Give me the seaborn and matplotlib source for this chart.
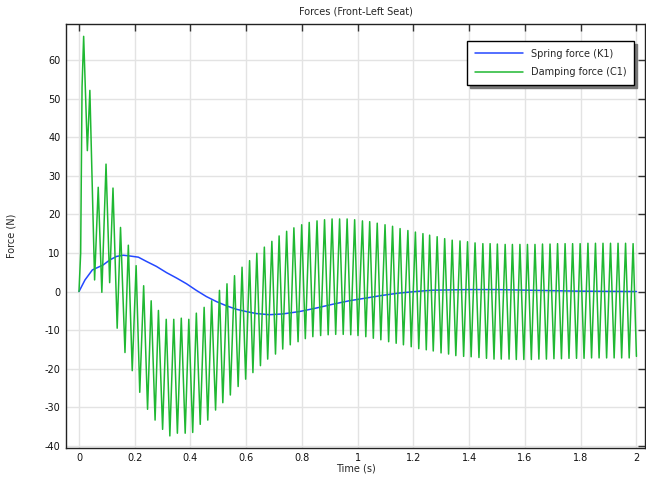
import pandas as pd
import matplotlib.pyplot as plt
import seaborn as sns
import numpy as np

# spring force (K1)
t_spring = [0.0, 0.0215, 0.048, 0.087, 0.111, 0.135, 0.159, 0.183, 0.213, 0.242, 0.278,
            0.314, 0.350, 0.386, 0.421, 0.457, 0.493, 0.529, 0.565, 0.601, 0.636, 0.683,
            0.731, 0.790, 0.850, 0.910, 0.969, 1.029, 1.088, 1.148, 1.207, 1.267, 1.40,
            1.50, 1.61, 1.79, 2.0]
f_spring = [0.0, 3.0, 5.6, 6.9, 8.2, 9.1, 9.4, 9.2, 8.9, 7.8, 6.5,
            4.9, 3.5, 2.0, 0.3, -1.3, -2.6, -3.7, -4.6, -5.2, -5.7, -6.0,
            -5.8, -5.2, -4.3, -3.3, -2.4, -1.7, -1.0, -0.4, 0.0, 0.35, 0.5,
            0.5, 0.35, 0.1, 0.0]

# damping force (C1), peaks and troughs
t_damp = [0.000, 0.006, 0.011, 0.0167, 0.030, 0.039, 0.056, 0.069, 0.082, 0.097,
          0.110, 0.122, 0.137, 0.149, 0.165, 0.177, 0.191, 0.205, 0.218, 0.232,
          0.246, 0.259, 0.273, 0.285, 0.300, 0.313, 0.326, 0.340, 0.353, 0.367,
          0.381, 0.394, 0.408, 0.421, 0.435, 0.449, 0.462, 0.476, 0.490, 0.504,
          0.516, 0.531, 0.543, 0.558, 0.571, 0.585, 0.598, 0.612, 0.624, 0.638,
          0.651, 0.665, 0.677, 0.692, 0.705, 0.718, 0.731, 0.745, 0.758, 0.771,
          0.786, 0.799, 0.812, 0.826, 0.839, 0.854, 0.867, 0.881, 0.894, 0.908,
          0.921, 0.935, 0.948, 0.962, 0.975, 0.989, 1.001, 1.017, 1.029, 1.043,
          1.056, 1.070, 1.083, 1.098, 1.111, 1.125, 1.138, 1.152, 1.164, 1.180,
          1.192, 1.207, 1.219, 1.234, 1.246, 1.258, 1.271, 1.285, 1.299, 1.312,
          1.326, 1.339, 1.352, 1.367, 1.380, 1.394, 1.407, 1.421, 1.435, 1.449,
          1.462, 1.475, 1.489, 1.501, 1.515, 1.529, 1.543, 1.555, 1.569, 1.582,
          1.596, 1.609, 1.623, 1.636, 1.650, 1.663, 1.677, 1.690, 1.704, 1.717,
          1.731, 1.744, 1.758, 1.771, 1.785, 1.798, 1.812, 1.826, 1.839, 1.853,
          1.866, 1.880, 1.893, 1.907, 1.920, 1.934, 1.947, 1.961, 1.974, 1.988,
          2.000]
f_damp = [0.0, 10.0, 53.0, 66.1, 36.5, 52.1, 3.0, 27.0, -0.2, 33.0,
          2.3, 26.8, -9.5, 16.6, -15.8, 12.0, -20.5, 6.7, -26.1, 1.5,
          -30.5, -2.4, -33.3, -4.9, -35.7, -7.2, -37.4, -7.2, -36.7, -6.9,
          -36.7, -7.2, -36.5, -5.6, -34.4, -4.1, -33.3, -2.4, -30.7, 0.3,
          -28.8, 2.0, -26.8, 4.1, -24.6, 6.3, -22.7, 8.0, -21.0, 9.9,
          -19.2, 11.5, -17.5, 13.0, -16.2, 14.4, -14.9, 15.6, -13.8, 16.5,
          -13.0, 17.3, -12.2, 17.9, -11.7, 18.3, -11.4, 18.6, -11.2, 18.8,
          -11.1, 18.8, -11.1, 18.8, -11.2, 18.6, -11.4, 18.3, -11.7, 18.1,
          -12.1, 17.7, -12.5, 17.3, -13.0, 16.9, -13.4, 16.3, -13.8, 15.8,
          -14.3, 15.4, -14.8, 15.0, -15.1, 14.6, -15.4, 14.2, -15.9, 13.7,
          -16.2, 13.3, -16.6, 13.1, -16.8, 12.9, -16.9, 12.6, -17.1, 12.4,
          -17.3, 12.4, -17.5, 12.3, -17.5, 12.2, -17.5, 12.2, -17.6, 12.2,
          -17.6, 12.2, -17.6, 12.2, -17.5, 12.3, -17.5, 12.3, -17.4, 12.4,
          -17.4, 12.4, -17.3, 12.4, -17.3, 12.4, -17.3, 12.5, -17.2, 12.5,
          -17.2, 12.5, -17.2, 12.5, -17.2, 12.5, -17.2, 12.5, -17.2, 12.4,
          -16.8]

labels = ['Spring force (K1)', 'Damping force (C1)']
colors = ['#2448ff', '#1fb832']

df = pd.concat([
    pd.DataFrame({'t': t_spring, 'F': f_spring, 'series': labels[0]}),
    pd.DataFrame({'t': t_damp, 'F': f_damp, 'series': labels[1]}),
])

sns.set_style('white')
plt.rcParams['font.family'] = ['DejaVu Sans']
plt.rcParams['axes.unicode_minus'] = False

fig = plt.figure(figsize=(6.46, 4.78), dpi=100)
ax = fig.add_axes([0.102, 0.063, 0.897, 0.886])

sns.lineplot(data=df, x='t', y='F', hue='series', hue_order=labels,
             palette=dict(zip(labels, colors)), linewidth=1.1, ax=ax,
             estimator=None, sort=False)
for ln in ax.get_lines():
    ln.set_solid_joinstyle('round')

ax.set_xlim(-0.047, 2.032)
ax.set_ylim(-40.5, 69.2)
ax.set_xticks(np.arange(0, 2.01, 0.2))
ax.set_xticklabels(['0', '0.2', '0.4', '0.6', '0.8', '1', '1.2', '1.4', '1.6', '1.8', '2'])
ax.set_yticks(np.arange(-40, 61, 10))
ax.grid(True, color='#e3e3e3', linewidth=1.0)
ax.set_axisbelow(True)
ax.tick_params(direction='in', length=5, width=1, color='#333333', labelsize=7,
               top=True, right=True, labelcolor='#111111', pad=4)
for s in ax.spines.values():
    s.set_color('#222222')
    s.set_linewidth(1.0)

ax.set_xlabel('Time (s)', fontsize=7, labelpad=0)
ax.set_ylabel('Force (N)', fontsize=7, labelpad=20)
ax.set_title('Forces (Front-Left Seat)', fontsize=7, pad=7)

leg = ax.legend(loc='upper right', bbox_to_anchor=(0.981, 0.961), borderaxespad=0,
                fontsize=7, frameon=True, fancybox=False, shadow={'color': '#777777', 'alpha': 1},
                edgecolor='black', framealpha=1, title=None, handlelength=5,
                borderpad=0.8, labelspacing=0.9)
leg.get_frame().set_linewidth(1.0)

fig.savefig('out.png', dpi=100)
